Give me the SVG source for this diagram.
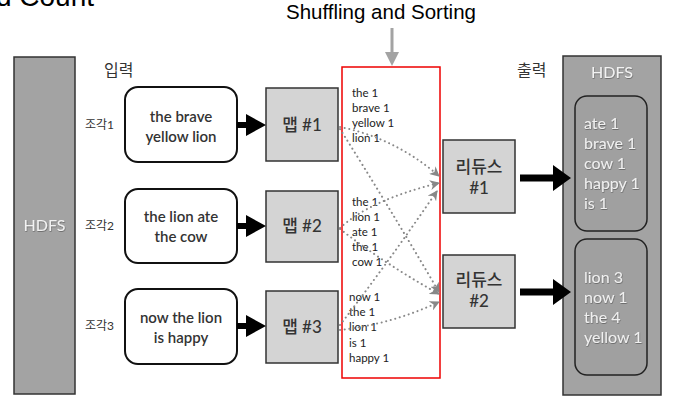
<svg xmlns="http://www.w3.org/2000/svg" width="677" height="410" viewBox="0 0 677 410">
<defs>
<style>
.title{font-family:"Liberation Sans",Arial,sans-serif;fill:#000}
.lbl{font-family:"Lato","Noto Sans CJK KR",sans-serif;fill:#333}
.in{fill:#fff;stroke:#111;stroke-width:2}
.inT{font-family:"Lato","Noto Sans CJK KR",sans-serif;font-size:15px;font-weight:600;fill:#333;text-anchor:middle}
.map{fill:#d4d4d4;stroke:#333;stroke-width:1.5}
.mapT{font-family:"Lato","Noto Sans CJK KR",sans-serif;font-size:17px;font-weight:500;fill:#333;text-anchor:middle}
.hdfs{fill:#a3a3a3;stroke:#333;stroke-width:1.5}
.hdfsT{font-family:"Lato","Noto Sans CJK KR",sans-serif;font-size:16px;fill:#f2f2f2;text-anchor:middle}
.inner{fill:#a0a0a0;stroke:#222;stroke-width:1.5}
.outT{font-family:"Lato",sans-serif;font-size:16px;fill:#f0f0f0}
.kv{font-family:"Lato",sans-serif;font-size:11.5px;fill:#222}
.dot{fill:none;stroke:#888;stroke-width:2;stroke-dasharray:0.1 4.6;stroke-linecap:round}
</style>
<marker id="gh" viewBox="0 0 10 10" refX="9" refY="5" markerWidth="10" markerHeight="10" markerUnits="userSpaceOnUse" orient="auto">
<path d="M0,0 L10,5 L0,10 L3,5 Z" fill="#888"/>
</marker>
<filter id="sh" x="-10%" y="-10%" width="120%" height="120%">
<feDropShadow dx="0.5" dy="0.8" stdDeviation="0.6" flood-color="#555" flood-opacity="0.8"/>
</filter>
</defs>

<text class="title" x="94" y="6" font-size="28" text-anchor="end">d Count</text>
<text class="title" x="381" y="19" font-size="20.5" text-anchor="middle">Shuffling and Sorting</text>

<g id="hdfs-in">
<rect class="hdfs" x="14" y="57" width="61" height="337"/>
<text class="hdfsT" x="44.5" y="231" filter="url(#sh)">HDFS</text>
</g>

<text class="lbl" x="104" y="76" font-size="16">입력</text>
<text class="lbl" x="517" y="76" font-size="16">출력</text>

<g id="split1">
<text class="lbl" x="85" y="129" font-size="12">조각1</text>
<rect class="in" x="125" y="87" width="112" height="75" rx="13"/>
<text class="inT" x="181" y="122">the brave</text>
<text class="inT" x="181" y="142">yellow lion</text>
</g>
<g id="split2">
<text class="lbl" x="85" y="230" font-size="12">조각2</text>
<rect class="in" x="125" y="189" width="112" height="74" rx="13"/>
<text class="inT" x="181" y="222">the lion ate</text>
<text class="inT" x="181" y="242">the cow</text>
</g>
<g id="split3">
<text class="lbl" x="85" y="330" font-size="12">조각3</text>
<rect class="in" x="125" y="289" width="112" height="75" rx="13"/>
<text class="inT" x="181" y="323">now the lion</text>
<text class="inT" x="181" y="343">is happy</text>
</g>

<g id="map1">
<rect class="map" x="266" y="88" width="72" height="73"/>
<text class="mapT" x="302" y="131">맵 #1</text>
</g>
<g id="map2">
<rect class="map" x="266" y="191" width="72" height="71"/>
<text class="mapT" x="302" y="232">맵 #2</text>
</g>
<g id="map3">
<rect class="map" x="266" y="291" width="72" height="72"/>
<text class="mapT" x="302" y="333">맵 #3</text>
</g>

<g id="shuffle">
<rect x="342" y="67" width="98" height="311" fill="#fff" stroke="#e00" stroke-width="1.5"/>
<text class="kv" x="352" y="97">the 1</text>
<text class="kv" x="352" y="112">brave 1</text>
<text class="kv" x="352" y="127">yellow 1</text>
<text class="kv" x="352" y="142">lion 1</text>
<text class="kv" x="352" y="206">the 1</text>
<text class="kv" x="352" y="221">lion 1</text>
<text class="kv" x="352" y="236">ate 1</text>
<text class="kv" x="352" y="251">the 1</text>
<text class="kv" x="352" y="266">cow 1</text>
<text class="kv" x="349" y="301">now 1</text>
<text class="kv" x="349" y="316">the 1</text>
<text class="kv" x="349" y="331">lion 1</text>
<text class="kv" x="349" y="347">is 1</text>
<text class="kv" x="349" y="362">happy 1</text>
</g>

<g id="reduce1">
<rect class="map" x="443" y="140" width="72" height="73"/>
<text class="mapT" x="479" y="173">리듀스</text>
<text class="mapT" x="479" y="194">#1</text>
</g>
<g id="reduce2">
<rect class="map" x="443" y="255" width="72" height="73"/>
<text class="mapT" x="479" y="286">리듀스</text>
<text class="mapT" x="479" y="307">#2</text>
</g>

<g id="hdfs-out">
<rect class="hdfs" x="563" y="56" width="98" height="339"/>
<text class="hdfsT" x="612" y="78" filter="url(#sh)">HDFS</text>
<rect class="inner" x="575" y="96" width="72" height="135" rx="12"/>
<g class="outT" filter="url(#sh)">
<text x="584" y="129">ate 1</text>
<text x="584" y="149">brave 1</text>
<text x="584" y="169">cow 1</text>
<text x="584" y="189">happy 1</text>
<text x="584" y="209">is 1</text>
</g>
<rect class="inner" x="575" y="239" width="72" height="136" rx="12"/>
<g class="outT" filter="url(#sh)">
<text x="584" y="283">lion 3</text>
<text x="584" y="303">now 1</text>
<text x="584" y="323">the 4</text>
<text x="584" y="343">yellow 1</text>
</g>
</g>

<g id="connectors">
<path d="M392,28 V54" stroke="#a3a3a3" stroke-width="3"/>
<path d="M385,52 L399,52 L392,66 Z" fill="#a3a3a3"/>
<g fill="#000">
<path d="M237,122 H246 V114 L266,125 L246,136 V128 H237 Z"/>
<path d="M237,223 H246 V215 L266,226 L246,237 V229 H237 Z"/>
<path d="M237,323 H246 V315 L266,326 L246,337 V329 H237 Z"/>
<path d="M520,174.5 H553 V165 L571,178 L553,191 V181.5 H520 Z"/>
<path d="M520,288.5 H553 V279 L571,292 L553,305 V295.5 H520 Z"/>
</g>
<path class="dot" d="M340,127 Q395,138 439,176" marker-end="url(#gh)"/>
<path class="dot" d="M340,129 Q385,200 439,292" marker-end="url(#gh)"/>
<path class="dot" d="M340,228 Q370,200 439,183" marker-end="url(#gh)"/>
<path class="dot" d="M340,229 Q385,264 439,294" marker-end="url(#gh)"/>
<path class="dot" d="M340,325 Q390,260 437,191" marker-end="url(#gh)"/>
<path class="dot" d="M340,330 Q392,324 439,302" marker-end="url(#gh)"/>
</g>
</svg>
